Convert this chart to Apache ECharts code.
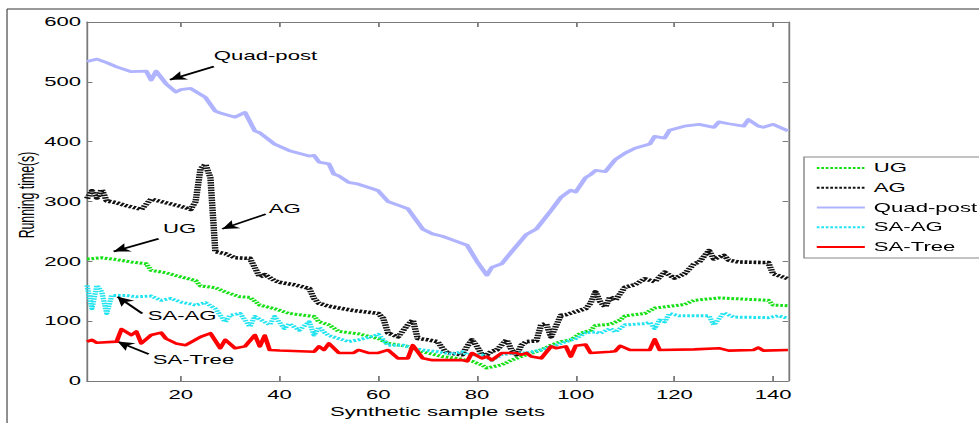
<!DOCTYPE html>
<html>
<head>
<meta charset="utf-8">
<script src="https://cdn.jsdelivr.net/npm/echarts@6/dist/echarts.min.js"></script>
<style>
html,body{margin:0;padding:0;background:#fff;overflow:hidden;}
#wrap{width:979px;height:423px;overflow:hidden;position:relative;}
#chart{position:absolute;left:0;top:0;height:423px;transform-origin:0 0;}
</style>
</head>
<body>
<div id="wrap"><div id="chart"></div></div>
<script>
// ---- data ----
const seriesNames = ['UG', 'AG', 'Quad-post', 'SA-AG', 'SA-Tree'];
const xTickValues = [20, 40, 60, 80, 100, 120, 140];
const yTickValues = [0, 100, 200, 300, 400, 500, 600];

const ugX = [1,4,7,10,13,14,17,20,23,24,27,29,32,34,36,39,42,47,48,50,52,56,60,62,66,69,73,76,79,81,82,85,87,90,93,95,97,99,101,103,104,107,109,110,114,116,122,124,129,139,140,143];
const ugY = [204,206,203,199,196,185,181,174,168,159,156,149,141,140,127,121,113,108,99,94,83,79,71,63,58,49,41,38,33,27,22,27,35,44,52,60,66,69,80,85,93,95,102,109,113,122,128,135,139,135,127,126];

const agX = [1,2,3,4,5,7,9,12,14,15,18,20,22,23,24,25,26,27,29,31,34,36,37,39,40,43,46,47,48,50,55,60,61,62,64,66,67,68,70,72,73,74,77,78,79,80,81,82,83,84,86,87,88,89,90,92,93,94,95,97,98,100,102,103,104,105,106,107,108,110,112,114,116,118,120,122,124,125,127,128,130,131,133,139,140,143];
const agY = [305,318,306,320,301,298,293,287,304,302,296,292,287,300,355,362,340,216,213,206,205,174,178,168,165,161,155,138,130,125,118,113,105,80,74,94,102,71,69,66,55,47,44,58,69,58,44,44,50,52,69,52,44,60,66,67,94,96,74,110,111,116,121,130,149,132,124,141,135,157,161,171,166,182,172,179,196,199,218,204,210,202,199,198,179,171];

const quadX = [1,3,5,7,10,13,14,15,17,19,20,22,25,27,28,31,33,35,36,39,42,46,47,48,50,51,52,54,56,59,60,62,64,66,69,71,73,75,78,80,82,83,85,87,90,92,95,97,99,100,102,103,104,106,108,110,112,115,116,118,119,122,125,128,129,131,134,135,137,138,140,143];
const quadY = [534,538,532,525,517,518,503,518,497,483,487,489,474,451,448,441,449,418,415,396,385,376,377,366,363,346,343,332,329,321,318,300,294,288,254,246,242,236,227,200,177,190,196,216,245,254,285,307,319,316,340,345,352,350,370,381,389,396,409,406,419,426,429,424,433,430,426,437,426,424,429,418];

const saagX = [1,2,3,4,5,6,9,11,14,16,18,20,23,25,27,29,30,32,34,35,38,39,41,42,44,46,47,48,49,50,52,54,56,58,60,62,65,67,69,72,75,77,78,81,83,85,88,90,93,96,98,100,102,104,105,107,108,110,114,115,116,117,118,119,121,127,128,130,132,139,141,143];
const saagY = [160,121,160,149,113,143,143,141,142,135,138,132,127,131,121,99,110,113,91,108,94,108,88,96,85,99,77,90,82,76,71,66,69,73,78,60,60,55,52,49,45,49,44,44,35,44,47,47,52,60,66,71,81,82,80,88,82,94,96,98,88,102,99,113,109,109,94,114,107,106,109,105];

const satreeX = [1,2,3,7,8,10,11,12,14,16,17,19,21,24,26,28,29,31,33,35,36,37,38,40,47,48,49,50,52,55,56,58,60,62,64,66,67,69,71,74,77,78,79,81,82,83,85,88,89,90,91,93,95,96,98,99,100,102,103,107,108,109,111,115,116,117,124,129,131,136,137,138,143];
const satreeY = [66,69,64,66,87,77,83,63,77,81,71,63,60,74,80,55,69,55,58,77,58,76,52,51,49,58,52,63,47,47,52,47,47,52,38,38,60,38,35,35,35,33,47,38,41,35,47,47,44,47,41,38,58,55,58,41,59,61,47,49,50,59,52,52,70,52,53,55,51,52,56,51,52];

// ---- layout / style ----
const SX = 1.8;                 // the reference figure is stretched horizontally
const W = 979 / SX;
const chartEl = document.getElementById('chart');
chartEl.style.width = W + 'px';
chartEl.style.transform = 'scaleX(' + SX + ')';

const FONT = "'Liberation Sans', Arial, sans-serif";
const FS = 12.3;
const AXIS_COLOR = '#7a7a7a';

function pairs(xs, ys) { return xs.map((x, i) => [x, ys[i]]); }

function arrow(from, to) {
  return [{ coord: from }, { coord: to }];
}

const annotLabel = {
  show: true, position: 'right', distance: 0,
  color: '#000', fontFamily: FONT, fontSize: FS, formatter: '{b}'
};
const arrowStyle = {
  silent: true, animation: false,
  symbol: ['none', 'arrow'], symbolSize: [7, 9],
  label: { show: false },
  lineStyle: { color: '#000', width: 1.6, type: 'solid' },
  emphasis: { disabled: true }
};

function lineSeries(name, xs, ys, color, width, dash, z, annot) {
  const s = {
    name: name, type: 'line', data: pairs(xs, ys),
    symbol: 'none', showSymbol: false, animation: false, z: z,
    lineStyle: { color: color, width: width, type: dash, cap: 'butt', join: 'round' },
    itemStyle: { color: color },
    emphasis: { disabled: true }
  };
  if (annot) {
    s.markLine = Object.assign({ data: [arrow(annot.from, annot.to)] }, arrowStyle);
    s.markPoint = {
      silent: true, animation: false, symbol: 'circle', symbolSize: 0,
      label: annotLabel,
      data: [{ name: name, coord: annot.text }]
    };
  }
  return s;
}

const chart = echarts.init(chartEl, null, { renderer: 'svg', width: W, height: 423 });

const option = {
  backgroundColor: '#fff',
  animation: false,
  textStyle: { fontFamily: FONT, fontSize: FS, color: '#000' },
  grid: {
    left: 87 / SX, right: 191 / SX, top: 22, bottom: 40,
    show: false
  },
  legend: {
    orient: 'vertical',
    left: 804 / SX, top: 157,
    padding: [5, 1.5, 5, 6.1],
    itemWidth: 26.7, itemHeight: 10, itemGap: 7.75,
    backgroundColor: '#fff',
    borderColor: '#888', borderWidth: 0.8, borderRadius: 0,
    itemStyle: { opacity: 0, borderWidth: 0 },
    textStyle: { fontFamily: FONT, fontSize: FS, color: '#000' },
    data: seriesNames.map(n => ({ name: n }))
  },
  xAxis: [{
    type: 'value', min: 1, max: 143, position: 'bottom',
    name: 'Synthetic sample sets', nameLocation: 'middle', nameGap: 21,
    nameTextStyle: { fontFamily: FONT, fontSize: FS, color: '#000' },
    axisLine: { show: true, onZero: false, lineStyle: { color: AXIS_COLOR, width: 1 } },
    axisTick: { show: true, inside: true, length: 5, customValues: xTickValues, lineStyle: { color: AXIS_COLOR } },
    axisLabel: { show: true, customValues: xTickValues, margin: 8, color: '#000', fontFamily: FONT, fontSize: FS },
    splitLine: { show: false }
  }, {
    type: 'value', min: 1, max: 143, position: 'top',
    axisLine: { show: true, onZero: false, lineStyle: { color: AXIS_COLOR, width: 1 } },
    axisTick: { show: true, inside: true, length: 5, customValues: xTickValues, lineStyle: { color: AXIS_COLOR } },
    axisLabel: { show: false },
    splitLine: { show: false }
  }],
  yAxis: [{
    type: 'value', min: 0, max: 600, interval: 100, position: 'left',
    axisLine: { show: true, onZero: false, lineStyle: { color: AXIS_COLOR, width: 1 } },
    axisTick: { show: true, inside: true, length: 3, customValues: yTickValues, lineStyle: { color: AXIS_COLOR } },
    axisLabel: { show: true, margin: 3.3, color: '#000', fontFamily: FONT, fontSize: FS },
    splitLine: { show: false }
  }, {
    type: 'value', min: 0, max: 600, interval: 100, position: 'right',
    axisLine: { show: true, onZero: false, lineStyle: { color: AXIS_COLOR, width: 1 } },
    axisTick: { show: true, inside: true, length: 3, customValues: yTickValues, lineStyle: { color: AXIS_COLOR } },
    axisLabel: { show: false },
    splitLine: { show: false }
  }],
  graphic: [
    { type: 'line', shape: { x1: 3.9, y1: 9, x2: W, y2: 9 }, style: { stroke: '#777', lineWidth: 1.5 }, silent: true },
    { type: 'line', shape: { x1: 3.9, y1: 9, x2: 3.9, y2: 423 }, style: { stroke: '#333', lineWidth: 0.6 }, silent: true },
    {
      type: 'text', x: 14.8, y: 195, rotation: Math.PI / 2, scaleY: 1, silent: true,
      style: { text: 'Running time(s)', fill: '#000', font: FS + 'px ' + FONT, align: 'center', verticalAlign: 'middle' }
    }
  ],
  series: [
    lineSeries('UG', ugX, ugY, '#14e014', 3, [1.5, 1], 3,
      { text: [16.4, 254.3], from: [15.5, 237.7], to: [6.4, 216.6] }),
    lineSeries('AG', agX, agY, '#111111', 3.6, [1.5, 1], 2,
      { text: [37.8, 287.5], from: [37.2, 279], to: [28.4, 254.3] }),
    lineSeries('Quad-post', quadX, quadY, '#b0b4ff', 2.8, 'solid', 1,
      { text: [26.7, 543.5], from: [26.7, 525.7], to: [17.8, 503.6] }),
    lineSeries('SA-AG', saagX, saagY, '#22e4f0', 3, [1.5, 1], 4,
      { text: [13.3, 109.7], from: [12.2, 113], to: [7.2, 140.8] }),
    lineSeries('SA-Tree', satreeX, satreeY, '#ff0000', 2.6, 'solid', 5,
      { text: [14.3, 34.9], from: [13.5, 44.9], to: [7.2, 66] })
  ]
};
chart.setOption(option);
</script>
</body>
</html>
